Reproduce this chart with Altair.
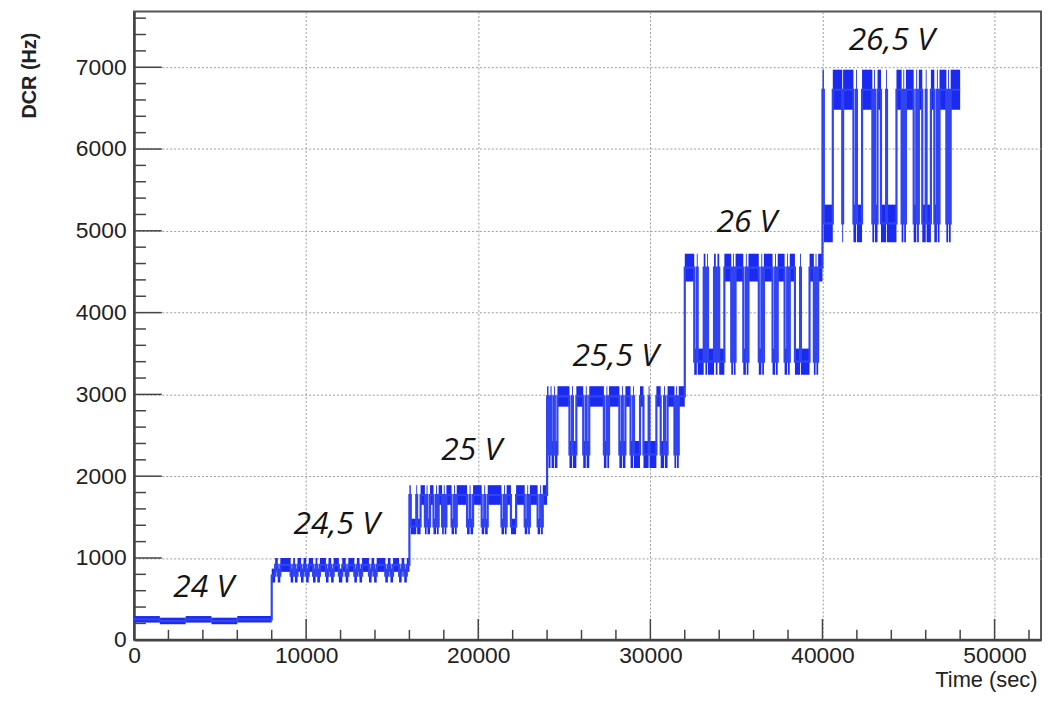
import altair as alt
import pandas as pd

# ---------------- data ----------------
SEGMENT_NAMES = ["24 V", "24,5 V", "25 V", "25,5 V", "26 V", "26,5 V"]

# dwell boundaries (sec) of the telegraph-like DCR signal, per bias voltage;
# dwells alternate between the upper (H) and lower (L) level
BOUNDS_24 = [0, 1500, 3000, 4500, 6000, 8000]
BOUNDS_245 = [8000, 8200, 8350, 8500, 9100, 9250, 9350, 9500, 9700, 9850, 10000, 10150,
              10400, 10550, 10650, 10800, 11150, 11300, 11450, 11600, 11900, 12100, 12300,
              12450, 12800, 12950, 13100, 13250, 13650, 13800, 13950, 14100, 14600, 14750,
              14900, 15050, 15400, 15550, 15700, 15850, 16000]
BOUNDS_25 = [16000, 16080, 16400, 16450, 16650, 16900, 17000, 17050, 17200, 17400, 17550,
             17600, 17700, 17900, 18000, 18050, 18150, 18450, 18600, 18650, 18750, 19350,
             19500, 19550, 19700, 20200, 20350, 20400, 20550, 21350, 21500, 21550, 21650,
             21900, 22200, 22700, 22850, 22900, 23000, 23450, 23600, 23650, 23750, 24000]
BOUNDS_255 = [24000, 24080, 24200, 24260, 24400, 24450, 24600, 25300, 25450, 25500, 25700,
              26100, 26250, 26300, 26450, 27300, 27450, 27500, 27600, 28200, 28350, 28400,
              28550, 28850, 29000, 29050, 29400, 29600, 29900, 29950, 30350, 30600, 30800,
              30850, 31000, 31400, 31500, 31550, 31650, 32000]
BOUNDS_26 = [32000, 32550, 32700, 32750, 33100, 33200, 33300, 33350, 33700, 33800, 33900,
             34000, 34300, 34700, 34800, 34850, 34950, 35400, 35550, 35600, 35700, 36300,
             36450, 36500, 36600, 37100, 37250, 37300, 37400, 37800, 37950, 38000, 38100,
             38400, 38700, 38750, 39250, 39500, 39600, 39650, 39750, 40000]
BOUNDS_265 = [40000, 40080, 40600, 41150, 41200, 41800, 41950, 42000, 42300, 42900, 43000,
              43050, 43200, 43400, 43700, 43750, 44300, 44600, 44700, 44750, 44850, 45300,
              45450, 45500, 45600, 45800, 46000, 46050, 46300, 46500, 46650, 46700, 46800,
              47200, 47300, 47350, 47450, 48000]

# level of the first dwell of each voltage step
FIRST_STATE = ["H", "L", "H", "H", "H", "H"]

# noise band (Hz) of the upper and lower level, per voltage
HIGH_LO = [210, 830, 1650, 2850, 4380, 6480]
HIGH_HI = [290, 1000, 1890, 3100, 4720, 6970]
LOW_LO = [190, 700, 1290, 2100, 3240, 4860]
LOW_HI = [270, 870, 1480, 2430, 3560, 5320]

# voltage annotations
LABEL_T = [4040, 11770, 19620, 27980, 35600, 44020]
LABEL_V = [640, 1420, 2320, 3470, 5110, 7330]

# axes
X_LABELS = [0, 10000, 20000, 30000, 40000, 50000]
Y_LABELS = [0, 1000, 2000, 3000, 4000, 5000, 6000, 7000]
X_MAJOR = [10000, 20000, 30000, 40000, 50000]
X_MINOR = [2000, 4000, 6000, 8000, 12000, 14000, 16000, 18000, 22000, 24000, 26000, 28000,
           32000, 34000, 36000, 38000, 42000, 44000, 46000, 48000, 52000]
Y_MAJOR = [1000, 2000, 3000, 4000, 5000, 6000, 7000]
Y_MINOR = [200, 400, 600, 800, 1200, 1400, 1600, 1800, 2200, 2400, 2600, 2800, 3200, 3400,
           3600, 3800, 4200, 4400, 4600, 4800, 5200, 5400, 5600, 5800, 6200, 6400, 6600,
           6800, 7200, 7400, 7600]
X_MAX = 52700
Y_MAX = 7680

# ---------------- build tables ----------------
BOUNDS = [BOUNDS_24, BOUNDS_245, BOUNDS_25, BOUNDS_255, BOUNDS_26, BOUNDS_265]

bands, pts = [], []
n = 0
for s, b in enumerate(BOUNDS):
    state = FIRST_STATE[s]
    for k in range(len(b) - 1):
        lo, hi = (HIGH_LO[s], HIGH_HI[s]) if state == "H" else (LOW_LO[s], LOW_HI[s])
        bands.append(dict(t0=b[k], t1=b[k + 1], lo=lo, hi=hi))
        mid = (lo + hi) / 2
        pts.append(dict(t=b[k], v=mid, i=n))
        pts.append(dict(t=b[k + 1], v=mid, i=n + 1))
        n += 2
        state = "L" if state == "H" else "H"
bands = pd.DataFrame(bands)
pts = pd.DataFrame(pts)
labels = pd.DataFrame(dict(t=LABEL_T, v=LABEL_V, name=SEGMENT_NAMES))
xmaj = pd.DataFrame(dict(t=X_MAJOR))
xmin = pd.DataFrame(dict(t=X_MINOR))
ymaj = pd.DataFrame(dict(v=Y_MAJOR))
ymin = pd.DataFrame(dict(v=Y_MINOR))

W, H = 914, 633
BLUE = "#1a2af0"
FONT = "Liberation Sans"

xs = alt.Scale(domain=[0, X_MAX], nice=False, zero=False)
ys = alt.Scale(domain=[0, Y_MAX], nice=False, zero=False)

xaxis = alt.Axis(values=X_LABELS, format="d", title="Time (sec)", ticks=False, tickSize=0,
                 domain=True, domainColor="#444", domainWidth=2.5,
                 grid=True, gridDash=[2, 2], gridColor="#9a9a9a", gridWidth=1,
                 labelFont=FONT, labelFontSize=23, labelColor="#222", labelPadding=5,
                 labelFlush=False, labelOverlap=False,
                 titleFont=FONT, titleFontSize=22, titleFontWeight="normal", titleColor="#222",
                 titleX=910, titleY=47, titleAlign="right", titleBaseline="alphabetic")
yaxis = alt.Axis(values=Y_LABELS, format="d", title="DCR (Hz)", ticks=False, tickSize=0,
                 domain=True, domainColor="#444", domainWidth=2.5,
                 grid=True, gridDash=[2, 2], gridColor="#9a9a9a", gridWidth=1,
                 labelFont=FONT, labelFontSize=23, labelColor="#222", labelPadding=8,
                 labelFlush=False, labelOverlap=False,
                 titleFont=FONT, titleFontSize=20, titleFontWeight="bold", titleColor="#222",
                 titleAngle=270, titleX=-105, titleY=64, titleAlign="center",
                 titleBaseline="middle")


def X(f):
    return alt.X(f, type="quantitative", scale=xs, axis=xaxis)


def Y(f):
    return alt.Y(f, type="quantitative", scale=ys, axis=yaxis)


band_layer = alt.Chart(bands).mark_rect(color=BLUE, strokeWidth=0).encode(
    x=X("t0"), x2="t1", y=Y("lo"), y2="hi")
line_layer = alt.Chart(pts).mark_line(color="#3144f2", strokeWidth=2.2).encode(
    x=X("t"), y=Y("v"), order="i:Q")
xmaj_layer = alt.Chart(xmaj).mark_rule(color="#444", strokeWidth=1.5).encode(
    x=X("t"), y=alt.value(H), y2=alt.value(H - 21))
xmin_layer = alt.Chart(xmin).mark_rule(color="#444", strokeWidth=1.5).encode(
    x=X("t"), y=alt.value(H), y2=alt.value(H - 10))
ymaj_layer = alt.Chart(ymaj).mark_rule(color="#444", strokeWidth=1.5).encode(
    y=Y("v"), x=alt.value(0), x2=alt.value(28))
ymin_layer = alt.Chart(ymin).mark_rule(color="#444", strokeWidth=1.5).encode(
    y=Y("v"), x=alt.value(0), x2=alt.value(12))
text_layer = alt.Chart(labels).mark_text(
    font="Open Sans", fontSize=32, fontStyle="italic", color="#151515",
    align="center", baseline="middle").encode(x=X("t"), y=Y("v"), text="name:N")

chart = alt.layer(band_layer, line_layer, xmaj_layer, xmin_layer, ymaj_layer, ymin_layer,
                  text_layer).properties(
    width=W, height=H,
    autosize=alt.AutoSizeParams(type="none"),
    padding={"left": 127, "top": 1, "right": 5, "bottom": 51},
    background="white",
).configure_view(stroke="#555", strokeWidth=2)

chart.save("out.html", embed_options={"renderer": "svg", "actions": False})
